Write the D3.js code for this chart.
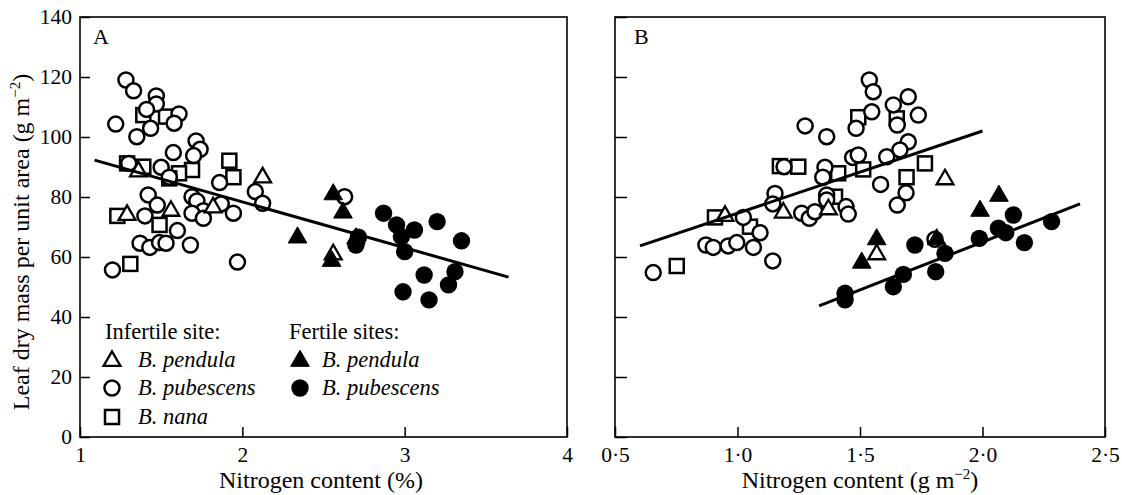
<!DOCTYPE html>
<html><head><meta charset="utf-8">
<script src="https://cdn.jsdelivr.net/npm/d3@7"></script>
<style>
body{margin:0;background:#fff}
text{font-family:"Liberation Serif","Times New Roman",serif;fill:#000}
</style>
</head><body>
<svg id="c" width="1122" height="495"></svg>
<script>
// ---------- Panel A: Nitrogen content (%) vs LMA ----------
const A_infPendula = [[1.36,88.8],[2.125,86.8],[1.29,74.3],[1.56,75.7],[1.82,76.8],[2.56,61.2]];
const A_infPubescens = [[1.283,119],[1.33,115.4],[1.47,113.7],[1.47,111],[1.41,109.2],[1.61,107.7],[1.58,104.6],[1.22,104.3],
 [1.435,102.9],[1.35,100.1],[1.715,98.7],[1.74,95.9],[1.575,94.8],[1.70,93.8],[1.30,91.2],[1.50,89.9],[1.55,86.6],[1.86,84.8],
 [2.08,81.8],[2.125,77.9],[1.42,80.7],[1.476,77.3],[1.69,80.1],[1.72,78.7],[1.76,75.4],[1.87,77.7],[1.945,74.6],[1.69,74.6],
 [1.76,72.9],[1.40,73.7],[1.60,68.8],[1.37,64.6],[1.43,63.2],[1.49,64.8],[1.53,64.6],[1.68,64],[1.97,58.3],[1.2,55.7],[2.63,80.1]];
const A_infNana = [[1.39,107.3],[1.53,106.8],[1.29,91.2],[1.39,90.1],[1.92,92.1],[1.945,86.6],[1.69,89],[1.61,87.9],[1.55,86.2],
 [1.23,73.7],[1.49,70.7],[1.31,57.7]];
const A_fertPendula = [[2.56,81.2],[2.62,75.1],[2.34,66.8],[2.55,59],[2.70,66.5]];
const A_fertPubescens = [[2.715,66.6],[2.70,64],[2.87,74.6],[2.95,70.7],[2.98,66.8],[3.06,69],[3.20,71.8],[3.00,61.8],[3.35,65.4],
 [3.12,54],[3.31,55.1],[3.27,50.7],[2.99,48.4],[3.15,45.7]];
const A_line = [[1.09,92.3],[3.64,53.3]];

// ---------- Panel B: Nitrogen content (g m-2) vs LMA ----------
const B_infPendula = [[0.949,74],[1.187,75.1],[1.371,76.2],[1.847,86.2],[1.568,61.2]];
const B_infPubescens = [[1.538,119],[1.554,115.1],[1.697,113.4],[1.636,110.7],[1.548,108.4],[1.652,104],[1.484,102.9],[1.738,107.3],
 [1.276,103.7],[1.364,100.1],[1.697,98.4],[1.663,95.7],[1.609,93.4],[1.47,93.2],[1.493,94],[1.688,81.4],[1.652,77.3],[1.584,84.2],
 [1.357,89.9],[1.348,86.6],[1.19,90.1],[1.153,81.2],[1.144,77.7],[1.262,74.6],[1.293,72.9],[1.316,75.1],[1.364,80.7],[1.364,79],
 [1.443,76.8],[1.452,74.3],[1.024,73.2],[1.092,68.1],[0.871,64],[0.901,63.2],[0.962,63.7],[0.997,64.8],[1.065,63.2],[1.144,58.7],
 [0.656,54.8],[1.806,65.9]];
const B_infNana = [[0.908,73.2],[1.051,70.1],[0.752,57],[1.493,106.6],[1.65,106.2],[1.765,91.2],[1.69,86.6],[1.513,89.2],[1.411,87.9],
 [1.173,90.3],[1.248,90.1],[1.398,80.1]];
const B_fertPendula = [[1.568,66.2],[1.507,58.4],[1.99,75.7],[2.067,80.7],[1.813,66.2]];
const B_fertPubescens = [[1.439,47.9],[1.439,45.7],[1.636,50.1],[1.677,54.2],[1.724,64],[1.809,55.1],[1.847,61.2],[1.987,66.2],
 [2.065,69.6],[2.095,68.1],[2.126,74],[2.171,64.8],[2.282,71.8]];
const B_lineInfertile = [[0.602,63.7],[2.0,102]];
const B_lineFertile = [[1.333,43.7],[2.398,77.7]];

// ---------- ticks / labels ----------
const yTicks = [0,20,40,60,80,100,120,140];
const A_xTicks = [1,2,3,4];
const B_xTicks = [0.5,1.0,1.5,2.0,2.5];
const legendInfertile = ["B. pendula","B. pubescens","B. nana"];
const legendFertile = ["B. pendula","B. pubescens"];

const svg = d3.select("#c");
const plotTop = 17, plotBottom = 437;
const y = d3.scaleLinear().domain([0,140]).range([plotBottom, plotTop]);
const xA = d3.scaleLinear().domain([1,4]).range([80,567]);
const xB = d3.scaleLinear().domain([0.5,2.5]).range([615,1105]);

const FS = 21.5, TFS = 24, LFS = 22.5;

function frame(x){
  const [x0,x1] = x.range();
  svg.append("rect").attr("x",x0).attr("y",plotTop).attr("width",x1-x0).attr("height",plotBottom-plotTop)
    .attr("fill","none").attr("stroke","#000").attr("stroke-width",1.6);
}

function axes(x, xt, fmt, yLabels, ytLen){
  const [x0,x1] = x.range();
  const gx = svg.append("g").attr("transform",`translate(0,${plotBottom})`)
    .call(d3.axisBottom(x).tickValues(xt).tickSize(-10).tickSizeOuter(0).tickFormat(fmt));
  gx.select(".domain").remove();
  gx.selectAll("line").attr("stroke","#000").attr("stroke-width",1.5);
  gx.selectAll("text").attr("y",25).attr("dy",0).style("font-size",FS+"px")
    .style("font-family",'"Liberation Serif",serif');
  const gy = svg.append("g").attr("transform",`translate(${x0},0)`)
    .call(d3.axisLeft(y).tickValues(yTicks).tickSize(-ytLen).tickSizeOuter(0).tickPadding(8)
      .tickFormat(yLabels ? d3.format("d") : ""));
  gy.select(".domain").remove();
  gy.selectAll("line").attr("stroke","#000").attr("stroke-width",1.5);
  gy.selectAll("text").style("font-size",FS+"px").style("font-family",'"Liberation Serif",serif');
}

const triOpen = d3.symbol().type(d3.symbolTriangle).size(122);
const triFill = d3.symbol().type(d3.symbolTriangle).size(150);

function mark(g, type, cx, cy){
  if(type==="sq"){
    g.append("rect").attr("x",cx-7).attr("y",cy-7).attr("width",14).attr("height",14)
      .attr("fill","#fff").attr("stroke","#000").attr("stroke-width",2.5);
  } else if(type==="ci"){
    g.append("circle").attr("cx",cx).attr("cy",cy).attr("r",7.5)
      .attr("fill","#fff").attr("stroke","#000").attr("stroke-width",2.5);
  } else if(type==="tr"){
    g.append("path").attr("d",triOpen()).attr("transform",`translate(${cx},${cy+1})`)
      .attr("fill","#fff").attr("stroke","#000").attr("stroke-width",2.3).attr("stroke-linejoin","miter");
  } else if(type==="fc"){
    g.append("circle").attr("cx",cx).attr("cy",cy).attr("r",8.7).attr("fill","#000");
  } else if(type==="ft"){
    g.append("path").attr("d",triFill()).attr("transform",`translate(${cx},${cy+1})`)
      .attr("fill","#000").attr("stroke","#000").attr("stroke-width",1);
  }
}

function points(x, sets){
  const g = svg.append("g");
  sets.forEach(([data,type]) => data.forEach(d => mark(g, type, x(d[0]), y(d[1]))));
}

function regLine(x, data){
  svg.append("path").attr("d", d3.line().x(d=>x(d[0])).y(d=>y(d[1]))(data))
    .attr("stroke","#000").attr("stroke-width",3).attr("fill","none");
}

// Panel A
frame(xA);
axes(xA, A_xTicks, d3.format("d"), true, 10);
points(xA, [[A_infNana,"sq"],[A_infPubescens,"ci"],[A_infPendula,"tr"],[A_fertPubescens,"fc"],[A_fertPendula,"ft"]]);
regLine(xA, A_line);
svg.append("text").attr("x",93).attr("y",44).style("font-size","22px").text("A");

// Panel B
frame(xB);
const dotFmt = d => d3.format(".1f")(d).replace(".","\u00B7");
axes(xB, B_xTicks, dotFmt, false, 12);
points(xB, [[B_infNana,"sq"],[B_infPubescens,"ci"],[B_infPendula,"tr"],[B_fertPubescens,"fc"],[B_fertPendula,"ft"]]);
regLine(xB, B_lineInfertile);
regLine(xB, B_lineFertile);
svg.append("text").attr("x",634).attr("y",44).style("font-size","22px").text("B");

// Axis titles
const yt = svg.append("text").attr("transform","translate(29,242) rotate(-90)")
  .attr("text-anchor","middle").style("font-size",TFS+"px");
yt.append("tspan").text("Leaf dry mass per unit area (g m");
yt.append("tspan").attr("dy",-9).style("font-size","15px").text("\u22122");
yt.append("tspan").attr("dy",9).text(")");

svg.append("text").attr("x",321).attr("y",488).attr("text-anchor","middle").style("font-size",TFS+"px")
  .text("Nitrogen content (%)");
const xt = svg.append("text").attr("x",860).attr("y",488).attr("text-anchor","middle").style("font-size",TFS+"px");
xt.append("tspan").text("Nitrogen content (g m");
xt.append("tspan").attr("dy",-9).style("font-size","15px").text("\u22122");
xt.append("tspan").attr("dy",9).text(")");

// Legend
const lg = svg.append("g");
lg.append("text").attr("x",105).attr("y",339).style("font-size",LFS+"px").text("Infertile site:");
lg.append("text").attr("x",289).attr("y",339).style("font-size",LFS+"px").text("Fertile sites:");
const rowY = [360, 388, 417];
const infTypes = ["tr","ci","sq"];
legendInfertile.forEach((t,i) => {
  mark(lg, infTypes[i], 112, rowY[i]);
  lg.append("text").attr("x",138).attr("y",rowY[i]+7).style("font-size",LFS+"px").style("font-style","italic").text(t);
});
const fertTypes = ["ft","fc"];
legendFertile.forEach((t,i) => {
  mark(lg, fertTypes[i], 300, rowY[i]);
  lg.append("text").attr("x",322).attr("y",rowY[i]+7).style("font-size",LFS+"px").style("font-style","italic").text(t);
});
</script>
</body></html>
